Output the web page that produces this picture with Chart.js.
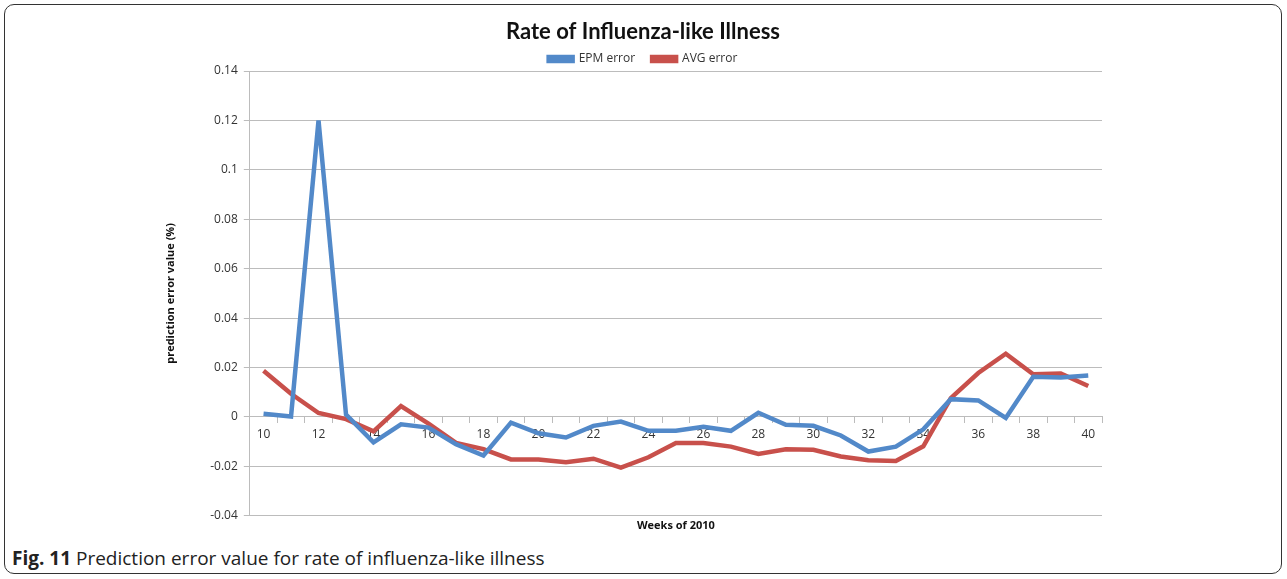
<!DOCTYPE html>
<html>
<head>
<meta charset="utf-8">
<script src="https://cdn.jsdelivr.net/npm/chart.js@4"></script>
<style>
    body { margin: 0; background: #fff; }
    #frame {
        position: absolute; left: 4px; top: 4px; width: 1276px; height: 568px;
        border: 1.5px solid #333; border-radius: 10px;
    }
    #wrap { position: absolute; left: 0; top: 0; width: 1287px; height: 545px; }
    #caption {
        position: absolute; left: 12px; top: 545px;
        font-family: "Open Sans", sans-serif; font-size: 19px; color: #222;
    }
</style>
</head>
<body>
<div id="frame"></div>
<div id="wrap"><canvas id="chart"></canvas></div>
<div id="caption"><b>Fig. 11</b> Prediction error value for rate of influenza-like illness</div>

<script>
const weeks = [10, 11, 12, 13, 14, 15, 16, 17, 18, 19, 20, 21, 22, 23, 24, 25,
    26, 27, 28, 29, 30, 31, 32, 33, 34, 35, 36, 37, 38, 39, 40];

const epmError = [0.0013, 0.0002, 0.12, 0.001, -0.0103, -0.003, -0.0043, -0.011,
    -0.0156, -0.0023, -0.0066, -0.0083, -0.0036, -0.0019, -0.0056, -0.0056,
    -0.004, -0.0056, 0.0017, -0.0032, -0.0036, -0.0075, -0.014, -0.012,
    -0.005, 0.0072, 0.0067, -0.0004, 0.0163, 0.016, 0.0168];

const avgError = [0.0187, 0.0094, 0.0016, -0.0009, -0.0058, 0.0044, -0.0027, -0.0105,
    -0.013, -0.0172, -0.0172, -0.0183, -0.0169, -0.0205, -0.0163, -0.0105,
    -0.0105, -0.012, -0.015, -0.0131, -0.0133, -0.016, -0.0175, -0.0178,
    -0.0119, 0.0076, 0.0178, 0.0256, 0.0173, 0.0176, 0.0125];

const yTicks = [-0.04, -0.02, 0, 0.02, 0.04, 0.06, 0.08, 0.1, 0.12, 0.14];

const blue = '#5289c9';
const red = '#c8504b';
const grid = '#bcbcbc';
const txt = '#333';

const chart = document.querySelector('#chart').getContext('2d');

new Chart(chart, {
    type: 'line',
    data: {
        labels: weeks,
        datasets: [
            {
                label: 'EPM error',
                data: epmError,
                borderColor: blue,
                backgroundColor: blue,
                borderWidth: 4.5,
                pointRadius: 0,
                tension: 0,
            },
            {
                label: 'AVG error',
                data: avgError,
                borderColor: red,
                backgroundColor: red,
                borderWidth: 4.5,
                pointRadius: 0,
                tension: 0,
            }
        ]
    },
    options: {
        responsive: true,
        maintainAspectRatio: false,
        animation: false,
        layout: {
            padding: { left: 160, right: 161, top: 0, bottom: 9 }
        },
        plugins: {
            title: {
                display: true,
                text: 'Rate of Influenza-like Illness',
                color: '#111',
                font: { family: 'Lato', size: 22, weight: 'bold' },
                // negative bottom pulls the legend up (its padding is wide for item spacing)
                padding: { top: 19, bottom: -9.4 }
            },
            subtitle: {
                display: true,
                position: 'bottom',
                fullSize: false,
                text: 'Weeks of 2010',
                color: '#111',
                font: { family: 'Open Sans', size: 11, weight: 'bold' },
                padding: { top: 3, bottom: 4 }
            },
            legend: {
                maxHeight: 35,
                labels: {
                    boxWidth: 24,
                    boxHeight: 4,
                    color: txt,
                    padding: 17,
                    font: { family: 'Open Sans', size: 12 }
                }
            },
            tooltip: { enabled: false }
        },
        scales: {
            x: {
                position: { y: 0 },
                offset: true,
                border: { color: grid },
                grid: { offset: true, drawOnChartArea: false, color: grid, tickLength: 6 },
                ticks: {
                    autoSkip: false,
                    maxRotation: 0,
                    color: txt,
                    padding: 4,
                    font: { family: 'Open Sans', size: 12 },
                    callback: function (v, i) { return i % 2 === 0 ? weeks[i] : ''; }
                }
            },
            y: {
                min: yTicks[0],
                max: yTicks[yTicks.length - 1],
                afterBuildTicks: (axis) => { axis.ticks = yTicks.map(v => ({ value: v })); },
                border: { color: grid },
                grid: { color: grid, tickLength: 6 },
                title: {
                    display: true,
                    text: 'prediction error value (%)',
                    color: '#111',
                    font: { family: 'Open Sans', size: 11, weight: 'bold' },
                    padding: { top: 4, bottom: 27 }
                },
                ticks: {
                    color: txt,
                    padding: 6,
                    font: { family: 'Open Sans', size: 12 },
                    callback: (v) => +v.toFixed(2)
                }
            },
            // empty right gutter so the title and legend sit where the reference has them
            yRight: {
                position: 'right',
                min: yTicks[0],
                max: yTicks[yTicks.length - 1],
                grid: { display: false },
                border: { display: false },
                ticks: { display: false },
                afterFit: (axis) => { axis.width = 24; }
            }
        }
    }
});
</script>
</body>
</html>
